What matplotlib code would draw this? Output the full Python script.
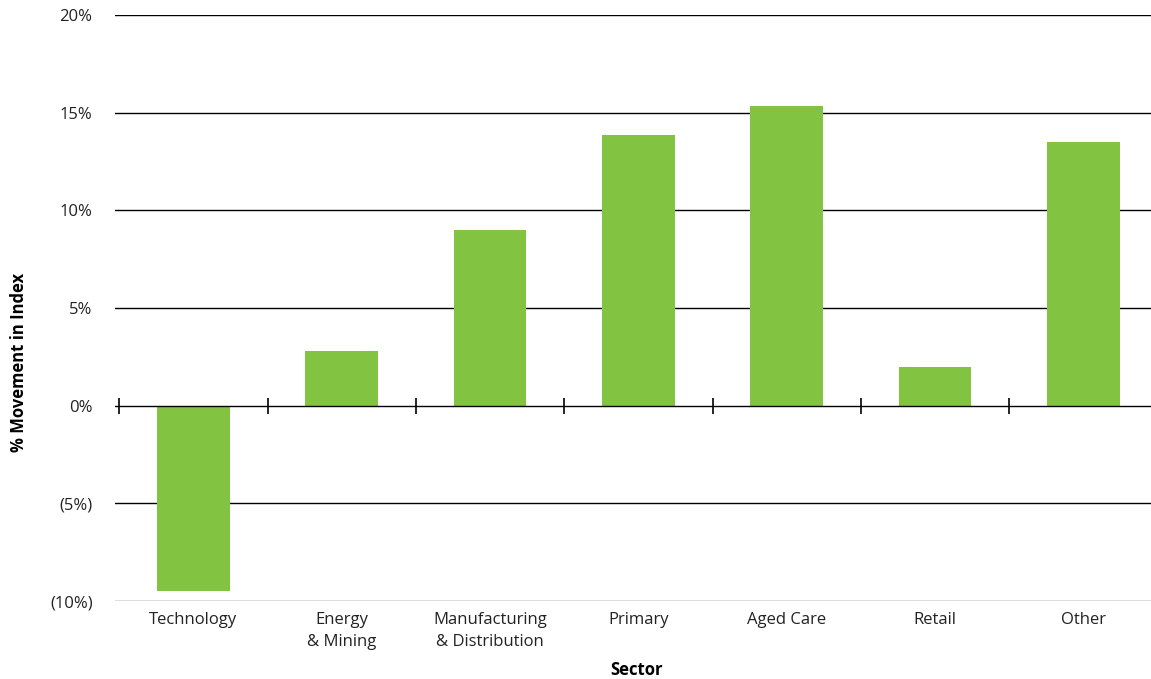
import matplotlib
matplotlib.use("Agg")
import matplotlib.pyplot as plt
import numpy as np

plt.rcParams['font.family'] = ['Open Sans', 'DejaVu Sans']

categories = ["Technology", "Energy\n& Mining", "Manufacturing\n& Distribution",
              "Primary", "Aged Care", "Retail", "Other"]
values = [-9.5, 2.8, 9.0, 13.85, 15.35, 2.0, 13.5]
yticks = [-10, -5, 0, 5, 10, 15, 20]
ytick_labels = ["(10%)", "(5%)", "0%", "5%", "10%", "15%", "20%"]

W, H = 1151, 679
fig = plt.figure(figsize=(W / 100, H / 100), dpi=100)
left_px, right_px = 115.5, 1157.5
top_px, bottom_px = 15, 601
ax = fig.add_axes([left_px / W, 1 - bottom_px / H,
                   (right_px - left_px) / W, (bottom_px - top_px) / H])

x = np.arange(len(categories))
ax.bar(x, values, width=0.489, color="#82C341", zorder=2)

ax.set_ylim(-10, 20)
ax.set_xlim(-0.525, len(categories) - 0.5)
ax.set_yticks(yticks)
ax.set_yticklabels(ytick_labels)
for y in yticks:
    if y == 0:
        continue
    ax.axhline(y, color="#000000" if y != -10 else "#555555", lw=1.0, zorder=1)
ax.axhline(0, color="#000000", lw=1.0, zorder=3)
bounds = np.arange(len(categories)) - 0.5
ax.plot(bounds, np.zeros_like(bounds), linestyle="none", marker="|",
        markersize=12, markeredgewidth=1.2, color="#000000", zorder=3, clip_on=False)

ax.set_xticks(x)
ax.set_xticklabels(categories, linespacing=1.5)
ax.tick_params(axis="both", length=0, labelsize=12, colors="#222222")
ax.tick_params(axis="y", pad=16.5)
ax.tick_params(axis="x", pad=8)
for s in ax.spines.values():
    s.set_visible(False)

ax.set_ylabel("% Movement in Index", fontsize=12, fontweight="bold")
ax.yaxis.set_label_coords((28 - left_px) / (right_px - left_px),
                          (bottom_px - 362) / (bottom_px - top_px))
ax.set_xlabel("Sector", fontsize=12, fontweight="bold", labelpad=7.5)

fig.savefig("out.png", dpi=100)
